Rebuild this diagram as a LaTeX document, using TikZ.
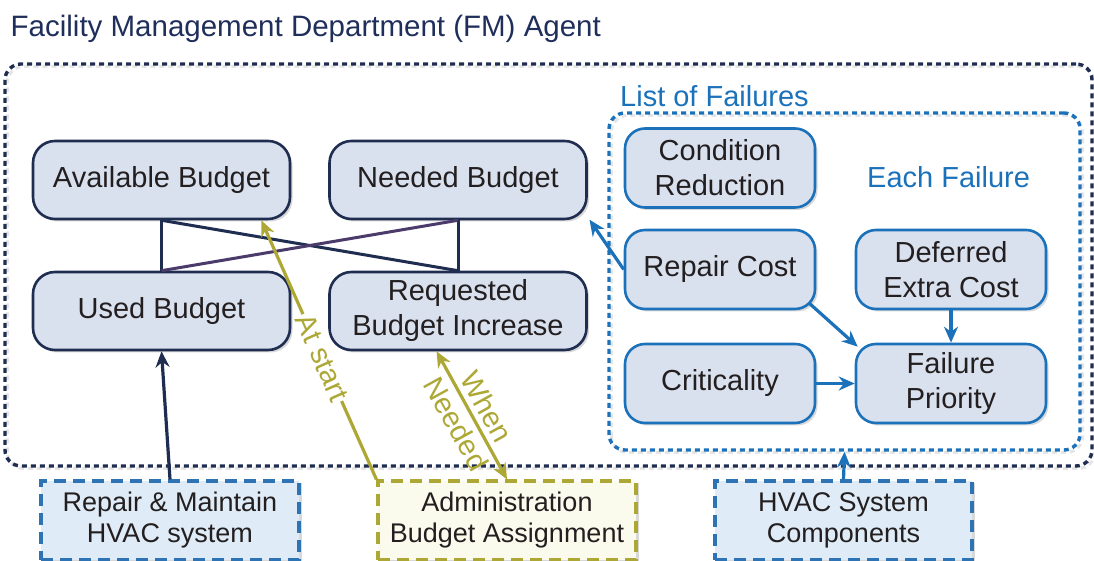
\documentclass[tikz,border=0pt]{standalone}
\usepackage{fontspec}
\setmainfont{Liberation Sans}
\usetikzlibrary{arrows.meta,shadows,calc}
\definecolor{navy}{HTML}{1F2D50}
\definecolor{titlecol}{HTML}{1F2E5A}
\definecolor{nodefill}{HTML}{DAE1EE}
\definecolor{textcol}{HTML}{231F20}
\definecolor{fblue}{HTML}{1B72BA}
\definecolor{dblue}{HTML}{2E74B5}
\definecolor{dbluefill}{HTML}{DFEBF6}
\definecolor{olive}{HTML}{ADA836}
\definecolor{olivefill}{HTML}{FAFBEC}
\definecolor{purp}{HTML}{4B3B6B}
\newcommand\dfont{\fontsize{29}{35}\selectfont}
\newcommand\efont{\fontsize{27}{31}\selectfont}
\begin{document}
\begin{tikzpicture}[x=1pt,y=1pt,
  shd/.style={drop shadow={shadow xshift=2.5pt,shadow yshift=-2.5pt,fill=black!30}},
  budget/.style={shd,draw=navy,fill=nodefill,line width=2.6pt,rounded corners=22pt,
    minimum width=257pt,minimum height=78pt,inner sep=0pt,align=center,font=\dfont,text=textcol},
  failnode/.style={shd,draw=fblue,fill=nodefill,line width=2.6pt,rounded corners=20pt,
    minimum width=190pt,minimum height=79pt,inner sep=0pt,align=center,font=\dfont,text=textcol},
  extbox/.style={shd,line width=3.2pt,dash pattern=on 12pt off 7pt,minimum width=258pt,
    minimum height=79pt,inner sep=0pt,align=center,font=\efont,text=textcol},
  agentbox/.style={draw=navy,line width=3.4pt,dash pattern=on 5pt off 4pt,rounded corners=16pt,
    minimum width=1087pt,minimum height=402pt,inner sep=0pt},
  listbox/.style={draw=fblue,line width=3.4pt,dash pattern=on 5pt off 4pt,rounded corners=16pt,
    minimum width=471pt,minimum height=337pt,inner sep=0pt},
  conn/.style={line width=3pt},
  arr/.style={line width=3.2pt,-{Stealth[length=16pt,width=14pt]}},
  darr/.style={line width=3.2pt,{Stealth[length=16pt,width=14pt]}-{Stealth[length=16pt,width=14pt]}},
  lbl/.style={font=\dfont,inner sep=0pt,anchor=base west}
]
\path[use as bounding box] (0,0) rectangle (1094,561);
\clip (0,0) rectangle (1094,561);

\node[lbl,text=titlecol,font=\fontsize{29.5}{35}\selectfont] (title) at (10.5,524.5) {Facility Management Department (FM) Agent};

% shadows of the dashed group borders
\draw[black!10,line width=3pt,dash pattern=on 5pt off 4pt,rounded corners=16pt]
  (7.5,92.5) rectangle (1094.5,494.5);
\node[agentbox] (fm) at (548.5,296) {};
\draw[black!10,line width=3pt,dash pattern=on 5pt off 4pt,rounded corners=16pt]
  (611.5,108.5) rectangle (1082.5,445.5);
\node[listbox] (failbox) at (844.5,279.5) {};

\node[lbl,text=fblue] (listlbl) at (620,454) {List of Failures};
\node[lbl,text=fblue] (eachlbl) at (867,373) {Each Failure};

\node[budget] (avail) at (161.5,381) {Available Budget};
\node[budget] (needed) at (458,381) {Needed Budget};
\node[budget] (used) at (161.5,250) {Used Budget};
\node[budget] (req) at (458,250) {Requested\\Budget Increase};

\node[failnode] (cond) at (720,393) {Condition\\Reduction};
\node[failnode] (repair) at (720,291.5) {Repair Cost};
\node[failnode] (deferred) at (951,291.5) {Deferred\\Extra Cost};
\node[failnode] (crit) at (720,177.5) {Criticality};
\node[failnode] (prio) at (951,177.5) {Failure\\Priority};

\node[extbox,draw=dblue,fill=dbluefill] (repmaint) at (170,40.5) {Repair \& Maintain\\HVAC system};
\node[extbox,draw=olive,fill=olivefill] (admin) at (507,40.5) {Administration\\Budget Assignment};
\node[extbox,draw=dblue,fill=dbluefill,minimum width=257pt] (hvac) at (843.5,40.5) {HVAC System\\Components};

% budget relations
\draw[conn,navy] (avail.south) -- (used.north);
\draw[conn,navy] (needed.south) -- (req.north);
\draw[conn,navy] (avail.south) -- (req.north);
\draw[conn,purp] (needed.south) -- (used.north);

% inputs
\draw[arr,navy] (repmaint.north) -- (used.south);
\draw[arr,olive] (admin.north west) -- node[pos=0.47,sloped,fill=white,inner sep=1.5pt,
  font=\dfont,text=olive] (atstart) {At start} (avail.-22.5);
\draw[darr,olive] (req.242) -- node[pos=0.5,sloped,inner sep=0pt,align=center,
  font=\dfont,text=olive] (whenneeded) {When\\Needed} (admin.north);

% failure relations
\draw[arr,fblue,shorten >=3pt] (repair.west) -- (needed.-16);
\draw[arr,fblue] ($(repair.south east)+(-7,7)$) -- ($(prio.north west)+(3,-4)$);
\draw[arr,fblue] (deferred.south) -- (prio.north);
\draw[arr,fblue] (crit.east) -- (prio.west);
\draw[arr,fblue] (hvac.north) -- (failbox.south);
\end{tikzpicture}
\end{document}
